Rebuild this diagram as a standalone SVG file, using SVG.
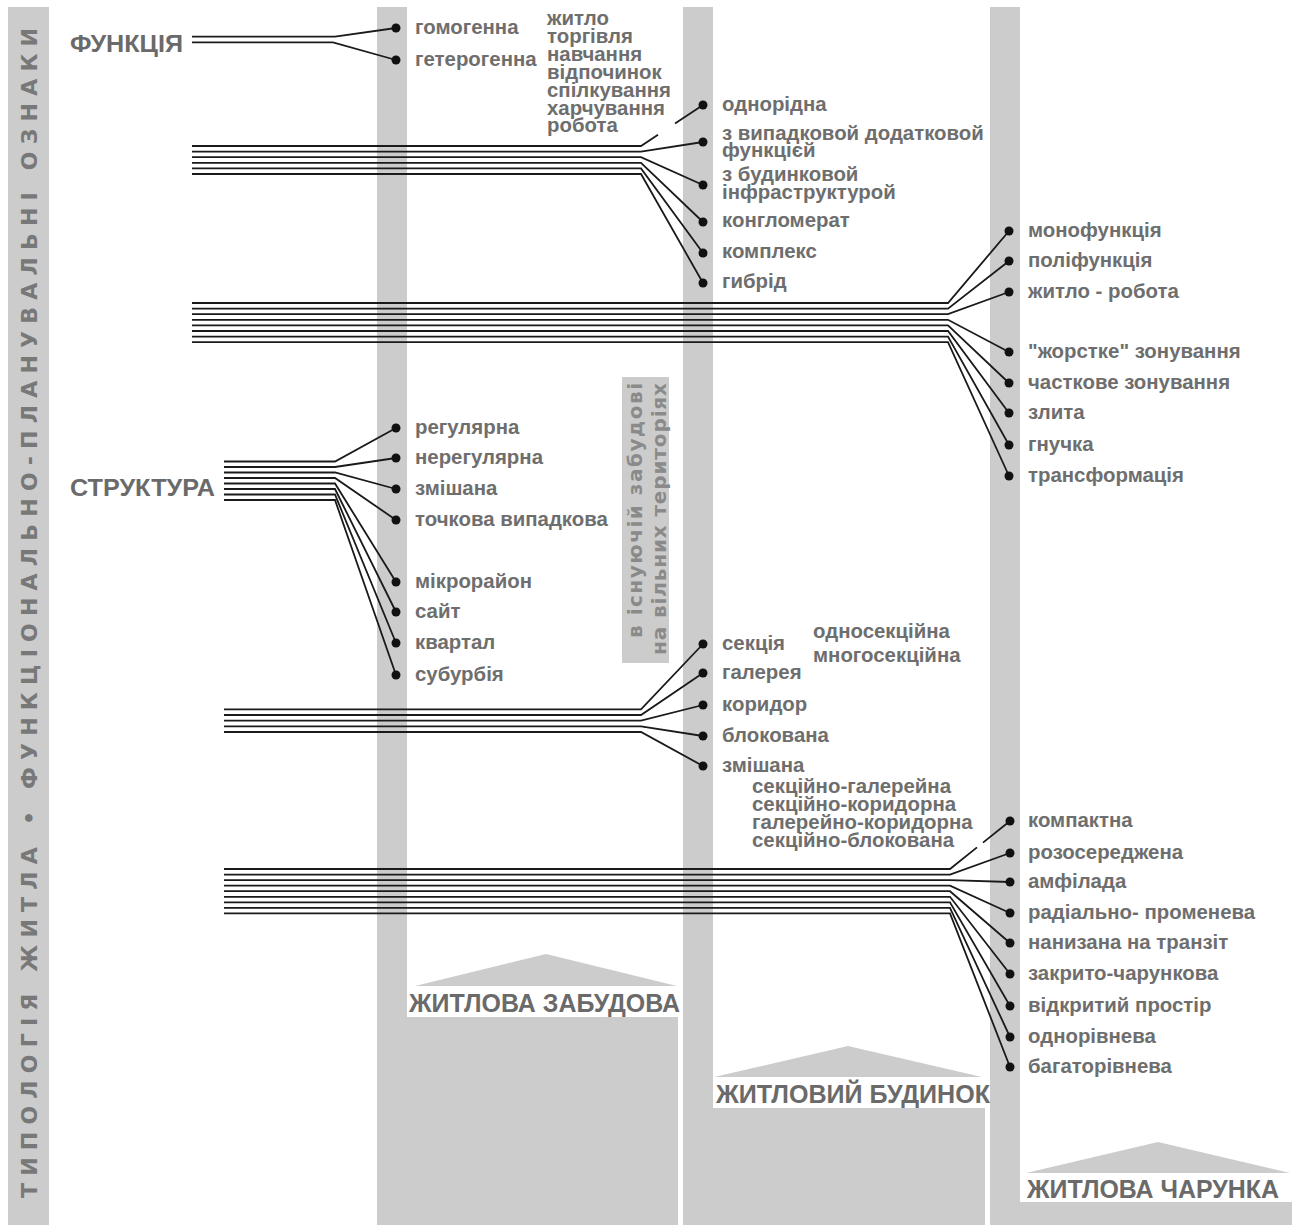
<svg xmlns="http://www.w3.org/2000/svg" width="1292" height="1225" viewBox="0 0 1292 1225">
<defs>
<style>
.bar{fill:#cccccc}
.t{font-family:"Liberation Sans",Arial,sans-serif;font-weight:bold;font-size:20.4px;fill:#6e6e6e}
.h{font-family:"Liberation Sans",Arial,sans-serif;font-weight:bold;font-size:24px;fill:#6a6a6a}
.b{font-family:"Liberation Sans",Arial,sans-serif;font-weight:bold;font-size:25px;fill:#6a6a6a}
.v{font-family:"DejaVu Sans",Verdana,sans-serif;font-weight:bold;font-size:22px;fill:#787878}
.vi{font-family:"DejaVu Sans",Verdana,sans-serif;font-weight:bold;font-size:20px;fill:#8a8a8a}
.ln{fill:none;stroke:#1a1a1a;stroke-width:1.8}
.dot{fill:#111}
</style>
</defs>
<rect width="1292" height="1225" fill="#ffffff"/>

<g id="background">
<rect class="bar" x="8" y="7" width="41" height="1218"/>
<rect class="bar" x="377" y="7" width="30" height="1218"/>
<rect class="bar" x="683" y="7" width="30" height="1218"/>
<rect class="bar" x="990" y="7" width="30" height="1218"/>
</g>

<g id="title-vertical">
<text class="v" transform="translate(37,1198) rotate(-90)" textLength="1170" lengthAdjust="spacing">ТИПОЛОГІЯ ЖИТЛА • ФУНКЦІОНАЛЬНО-ПЛАНУВАЛЬНІ ОЗНАКИ</text>
</g>

<g id="block-zabudova">
<rect class="bar" x="377" y="1017" width="301" height="208"/>
<polygon class="bar" points="415,986 546,954 677,986"/>
<rect x="407" y="988" width="273" height="29" fill="#ffffff"/>
<text class="b" x="409" y="1012" textLength="271" lengthAdjust="spacingAndGlyphs">ЖИТЛОВА ЗАБУДОВА</text>
</g>
<g id="block-budynok">
<rect class="bar" x="683" y="1108" width="302" height="117"/>
<polygon class="bar" points="714,1077 848,1046 982,1077"/>
<rect x="713" y="1079" width="277" height="29" fill="#ffffff"/>
<text class="b" x="716" y="1103" textLength="274" lengthAdjust="spacingAndGlyphs">ЖИТЛОВИЙ БУДИНОК</text>
</g>
<g id="block-charunka">
<rect class="bar" x="990" y="1202" width="302" height="23"/>
<polygon class="bar" points="1026,1173 1158,1142 1290,1173"/>
<rect x="1020" y="1176" width="272" height="26" fill="#ffffff"/>
<text class="b" x="1027" y="1198" textLength="252" lengthAdjust="spacingAndGlyphs">ЖИТЛОВА ЧАРУНКА</text>
</g>

<g id="label-territory">
<rect class="bar" x="622" y="377" width="47" height="286"/>
<text class="vi" transform="translate(642,638) rotate(-90)" textLength="255" lengthAdjust="spacing">в існуючій забудові</text>
<text class="vi" transform="translate(665.5,655) rotate(-90)" textLength="272" lengthAdjust="spacing">на вільних територіях</text>
</g>

<g id="connectors">
<path class="ln" d="M192 36.7H335L396 28M192 42.3H333L396 60"/>
<path class="ln" d="M192 146H641L658 134.8M675 123.5L703 105M192 151.6H641L703 142M192 157.2H641L703 185M192 162.8H641L703 222M192 168.4H641L703 253M192 174H641L703 283"/>
<path class="ln" d="M192 303H948L1009 231M192 308.6H948L1009 261M192 314.2H948L1009 292M192 319.8H948L1009 352M192 325.4H948L1009 383M192 331H948L1009 413M192 336.6H948L1009 445M192 342.2H948L1009 476"/>
<path class="ln" d="M224 461.5H335L396 428M224 467H335L396 458M224 472.5H335L396 489M224 478H335L396 520M224 483.5H335L396 582M224 489H335L396 612M224 494.5H335L396 643M224 500H335L396 675"/>
<path class="ln" d="M224 709.3H641L703 644M224 715H641L703 673M224 720.7H641L703 705M224 726.3H641L703 736M224 732H641L703 766"/>
<path class="ln" d="M224 869H950L977 847.4M983 842.6L1010 821M224 874.6H950L1010 853M224 880.1H950L1010 882M224 885.7H950L1010 913M224 891.2H950L1010 943M224 896.8H950L1010 974M224 902.3H950L1010 1006M224 907.9H950L1010 1037M224 913.4H950L1010 1067"/>
</g>

<g id="node-funktsiia"><text class="h" x="70" y="51.5" textLength="113" lengthAdjust="spacingAndGlyphs">ФУНКЦІЯ</text></g>
<g id="node-struktura"><text class="h" x="70" y="495.5" textLength="145" lengthAdjust="spacingAndGlyphs">СТРУКТУРА</text></g>

<g id="node-function-list">
<text class="t"><tspan x="547" y="25">житло</tspan><tspan x="547" y="42.9">торгівля</tspan><tspan x="547" y="60.8">навчання</tspan><tspan x="547" y="78.7">відпочинок</tspan><tspan x="547" y="96.6">спілкування</tspan><tspan x="547" y="114.5">харчування</tspan><tspan x="547" y="132.4">робота</tspan></text>
</g>

<g id="node-homogenna"><circle class="dot" cx="396" cy="28" r="4.5"/><text class="t" x="415" y="33.5">гомогенна</text></g>
<g id="node-heterogenna"><circle class="dot" cx="396" cy="60" r="4.5"/><text class="t" x="415" y="65.5">гетерогенна</text></g>

<g id="node-odnoridna"><circle class="dot" cx="703" cy="105" r="4.5"/><text class="t" x="722" y="111">однорідна</text></g>
<g id="node-vypadkova"><circle class="dot" cx="703" cy="142" r="4.5"/><text class="t"><tspan x="722" y="140">з випадковой додатковой</tspan><tspan x="722" y="157">функцієй</tspan></text></g>
<g id="node-budynkova"><circle class="dot" cx="703" cy="185" r="4.5"/><text class="t"><tspan x="722" y="181">з будинковой</tspan><tspan x="722" y="198.5">інфраструктурой</tspan></text></g>
<g id="node-konhlomerat"><circle class="dot" cx="703" cy="222" r="4.5"/><text class="t" x="722" y="227">конгломерат</text></g>
<g id="node-kompleks"><circle class="dot" cx="703" cy="253" r="4.5"/><text class="t" x="722" y="258">комплекс</text></g>
<g id="node-hybrid"><circle class="dot" cx="703" cy="283" r="4.5"/><text class="t" x="722" y="288">гибрід</text></g>

<g id="node-monofunktsiia"><circle class="dot" cx="1009" cy="231" r="4.5"/><text class="t" x="1028" y="236.5">монофункція</text></g>
<g id="node-polifunktsiia"><circle class="dot" cx="1009" cy="261" r="4.5"/><text class="t" x="1028" y="266.5">поліфункція</text></g>
<g id="node-zhytlo-robota"><circle class="dot" cx="1009" cy="292" r="4.5"/><text class="t" x="1028" y="297.5">житло - робота</text></g>
<g id="node-zhorstke"><circle class="dot" cx="1009" cy="352" r="4.5"/><text class="t" x="1028" y="357.5">"жорстке" зонування</text></g>
<g id="node-chastkove"><circle class="dot" cx="1009" cy="383" r="4.5"/><text class="t" x="1028" y="388.5">часткове зонування</text></g>
<g id="node-zlyta"><circle class="dot" cx="1009" cy="413" r="4.5"/><text class="t" x="1028" y="418.5">злита</text></g>
<g id="node-hnuchka"><circle class="dot" cx="1009" cy="445" r="4.5"/><text class="t" x="1028" y="450.5">гнучка</text></g>
<g id="node-transformatsiia"><circle class="dot" cx="1009" cy="476" r="4.5"/><text class="t" x="1028" y="481.5">трансформація</text></g>

<g id="node-rehuliarna"><circle class="dot" cx="396" cy="428" r="4.5"/><text class="t" x="415" y="433.5">регулярна</text></g>
<g id="node-nerehuliarna"><circle class="dot" cx="396" cy="458" r="4.5"/><text class="t" x="415" y="463.5">нерегулярна</text></g>
<g id="node-zmishana1"><circle class="dot" cx="396" cy="489" r="4.5"/><text class="t" x="415" y="494.5">змішана</text></g>
<g id="node-tochkova"><circle class="dot" cx="396" cy="520" r="4.5"/><text class="t" x="415" y="525.5">точкова випадкова</text></g>
<g id="node-mikroraion"><circle class="dot" cx="396" cy="582" r="4.5"/><text class="t" x="415" y="587.5">мікрорайон</text></g>
<g id="node-sait"><circle class="dot" cx="396" cy="612" r="4.5"/><text class="t" x="415" y="617.5">сайт</text></g>
<g id="node-kvartal"><circle class="dot" cx="396" cy="643" r="4.5"/><text class="t" x="415" y="648.5">квартал</text></g>
<g id="node-suburbiia"><circle class="dot" cx="396" cy="675" r="4.5"/><text class="t" x="415" y="680.5">субурбія</text></g>

<g id="node-sektsiia"><circle class="dot" cx="703" cy="644" r="4.5"/><text class="t" x="722" y="650">секція</text></g>
<g id="node-sektsiia-types"><text class="t"><tspan x="813" y="638">односекційна</tspan><tspan x="813" y="662">многосекційна</tspan></text></g>
<g id="node-halereia"><circle class="dot" cx="703" cy="673" r="4.5"/><text class="t" x="722" y="678.5">галерея</text></g>
<g id="node-korydor"><circle class="dot" cx="703" cy="705" r="4.5"/><text class="t" x="722" y="710.5">коридор</text></g>
<g id="node-blokovana"><circle class="dot" cx="703" cy="736" r="4.5"/><text class="t" x="722" y="741.5">блокована</text></g>
<g id="node-zmishana2"><circle class="dot" cx="703" cy="766" r="4.5"/><text class="t" x="722" y="771.5">змішана</text></g>
<g id="node-mixed-types">
<text class="t"><tspan x="752" y="793">секційно-галерейна</tspan><tspan x="752" y="811">секційно-коридорна</tspan><tspan x="752" y="829">галерейно-коридорна</tspan><tspan x="752" y="847">секційно-блокована</tspan></text>
</g>

<g id="node-kompaktna"><circle class="dot" cx="1010" cy="821" r="4.5"/><text class="t" x="1028" y="826.5">компактна</text></g>
<g id="node-rozoseredzhena"><circle class="dot" cx="1010" cy="853" r="4.5"/><text class="t" x="1028" y="858.5">розосереджена</text></g>
<g id="node-amfilada"><circle class="dot" cx="1010" cy="882" r="4.5"/><text class="t" x="1028" y="887.5">амфілада</text></g>
<g id="node-radialno"><circle class="dot" cx="1010" cy="913" r="4.5"/><text class="t" x="1028" y="918.5">радіально- променева</text></g>
<g id="node-nanyzana"><circle class="dot" cx="1010" cy="943" r="4.5"/><text class="t" x="1028" y="948.5">нанизана на транзіт</text></g>
<g id="node-zakryto"><circle class="dot" cx="1010" cy="974" r="4.5"/><text class="t" x="1028" y="979.5">закрито-чарункова</text></g>
<g id="node-vidkrytyi"><circle class="dot" cx="1010" cy="1006" r="4.5"/><text class="t" x="1028" y="1011.5">відкритий простір</text></g>
<g id="node-odnorivneva"><circle class="dot" cx="1010" cy="1037" r="4.5"/><text class="t" x="1028" y="1042.5">однорівнева</text></g>
<g id="node-bahatorivneva"><circle class="dot" cx="1010" cy="1067" r="4.5"/><text class="t" x="1028" y="1072.5">багаторівнева</text></g>
</svg>
